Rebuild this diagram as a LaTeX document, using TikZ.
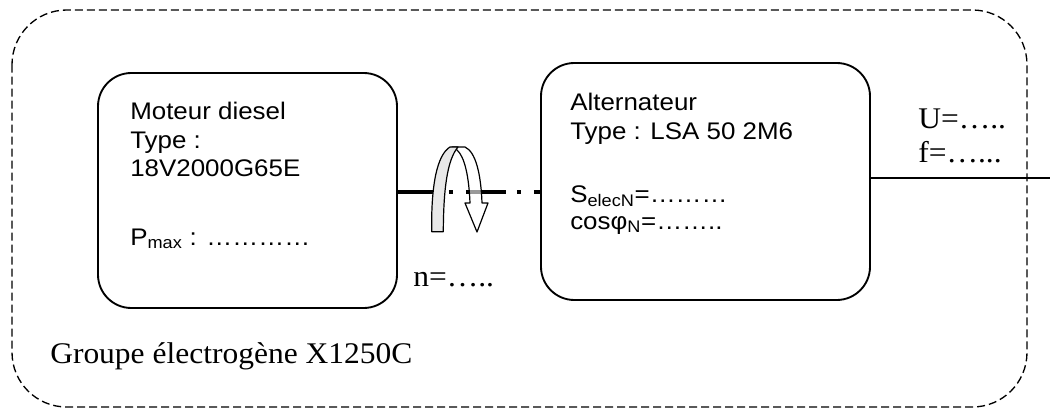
\documentclass[tikz,border=0pt]{standalone}
\usepackage{fontspec}
\setmainfont{Liberation Serif}[FakeStretch = 1.05]
\newfontfamily\arialfont{Liberation Sans}[FakeStretch = 1.08]

\begin{document}
\begin{tikzpicture}[x = 0.75pt, y = -0.75pt]
  % styles
  \tikzstyle{bloc} = [draw, line width = 1.4pt, rounded corners = 25pt, inner sep = 0]
  \tikzstyle{group frame} = [line width = 1pt, dash pattern = on 6pt off 3pt, rounded corners = 41pt]
  \tikzstyle{arial text} = [anchor = base west, inner sep = 0, font = \arialfont\fontsize{18}{21}\selectfont]
  \tikzstyle{times text} = [anchor = base west, inner sep = 0, font = \fontsize{22.5}{26}\selectfont]
  \tikzstyle{shaft} = [line width = 3pt, dash pattern = on 30pt off 8.25pt on 3pt off 9.75pt]
  \tikzstyle{ribbon} = [line width = 0.9pt, line join = round]
  \colorlet{ribbongray}{gray!18}

  \useasboundingbox (0, 0) rectangle (1050, 410);

  % group frame
  \draw[group frame] (12, 10) rectangle (1027, 407);
  \node[times text] (groupe) at (50, 363) {Groupe électrogène X1250C};

  % diesel engine
  \node[bloc, minimum width = 224.25pt, minimum height = 176.25pt] (moteur) at (247.5, 190.5) {};
  \node[arial text] (moteur l1) at (130, 119) {Moteur diesel};
  \node[arial text] (moteur l2) at (130, 148) {Type :};
  \node[arial text] (moteur l3) at (130, 176) {18V2000G65E};
  \node[arial text] (moteur l4) at (130, 245) {P\textsubscript{max} : …………};

  % alternator
  \node[bloc, minimum width = 246.75pt, minimum height = 177.75pt] (alternateur) at (705.5, 181.5) {};
  \node[arial text] (alt l1) at (570, 111) {Alternateur};
  \node[arial text] (alt l2) at (570, 140) {Type : LSA 50 2M6};
  \node[arial text] (alt l3) at (570, 202) {S\textsubscript{elecN}=………};
  \node[arial text] (alt l4) at (570, 229) {cosφ\textsubscript{N}=……..};

  % shaft
  \draw[shaft] (moteur.east |- 0, 192) -- (alternateur.west |- 0, 192);
  \node[times text] (vitesse) at (413, 286) {n=…..};

  % rotation arrow
  \filldraw[ribbon, fill = white, fill opacity = 0.6] (452, 147) -- (465, 147)
    .. controls (476, 152) and (481, 175) .. (482, 203) -- (488, 203) -- (477, 232)
    -- (465, 203) -- (470, 203) .. controls (469, 178) and (465, 157) .. (457, 150) -- cycle;
  \filldraw[ribbon, fill = ribbongray] (431.7, 231.7) .. controls (431, 185) and (437, 155) .. (450, 147)
    -- (458, 147) .. controls (447, 160) and (443.5, 190) .. (443.3, 231.7) -- cycle;

  % electrical output
  \coordinate (sortie) at (1050, 178);
  \draw[line width = 1pt] (alternateur.east |- sortie) -- (sortie);
  \node[times text] (tension) at (918, 128) {U=…..};
  \node[times text] (frequence) at (918, 162) {f=…...};

\end{tikzpicture}
\end{document}
